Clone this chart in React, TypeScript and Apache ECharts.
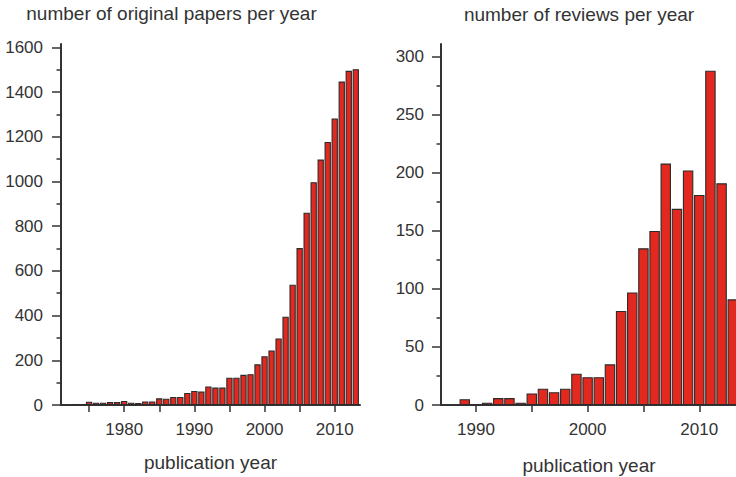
import React, { useEffect, useRef } from "react";
import * as echarts from "echarts";

// Left panel: original papers per year
const paperYears = [
  1973, 1974, 1975, 1976, 1977, 1978, 1979, 1980, 1981, 1982,
  1983, 1984, 1985, 1986, 1987, 1988, 1989, 1990, 1991, 1992,
  1993, 1994, 1995, 1996, 1997, 1998, 1999, 2000, 2001, 2002,
  2003, 2004, 2005, 2006, 2007, 2008, 2009, 2010, 2011, 2012, 2013,
];
const paperCounts = [
  4, 4, 15, 10, 10, 13, 13, 18, 10, 9,
  16, 16, 30, 28, 36, 36, 54, 63, 60, 83,
  78, 78, 122, 122, 135, 138, 182, 218, 244, 298,
  395, 538, 702, 860, 997, 1098, 1177, 1282, 1447, 1495, 1502,
];

// Right panel: reviews per year
const reviewYears = [
  1989, 1990, 1991, 1992, 1993, 1994, 1995, 1996, 1997, 1998,
  1999, 2000, 2001, 2002, 2003, 2004, 2005, 2006, 2007, 2008,
  2009, 2010, 2011, 2012, 2013,
];
const reviewCounts = [
  5, 0, 2, 6, 6, 2, 10, 14, 11, 14,
  27, 24, 24, 35, 81, 97, 135, 150, 208, 169,
  202, 181, 288, 191, 91,
];

const paperYTicks = [0, 200, 400, 600, 800, 1000, 1200, 1400, 1600];
const paperYMinor = [100, 300, 500, 700, 900, 1100, 1300, 1500];
const paperXTicks = [1975, 1980, 1985, 1990, 1995, 2000, 2005, 2010];
const paperXLabels = [1980, 1990, 2000, 2010];

const reviewYTicks = [0, 50, 100, 150, 200, 250, 300];
const reviewYMinor = [25, 75, 125, 175, 225, 275];
const reviewXTicks = [1990, 1995, 2000, 2005, 2010];
const reviewXLabels = [1990, 2000, 2010];

const leftTitle = "number of original papers per year";
const rightTitle = "number of reviews per year";
const xName = "publication year";

const FONT = '"Liberation Sans", Arial, Helvetica, sans-serif';
const TEXT = "#333333";
const AXIS = "#333333";
const BAR = "#E3281F";

const plain = (v: number) => String(Math.round(v));

export default function App() {
  const ref = useRef<HTMLDivElement>(null);

  useEffect(() => {
    if (!ref.current) return;
    const chart = echarts.init(ref.current, null, { renderer: "svg" });

    const gTop = 44;
    const gHeight = 361;
    const L = { left: 61, width: 299, min: 1971, max: 2013.6 };
    const R = { left: 441, width: 295, min: 1986.87, max: 2013.29 };
    const lPx = L.width / (L.max - L.min);
    const rPx = R.width / (R.max - R.min);

    const xAxisBase = (gridIndex: number, min: number, max: number, ticks: number[], labels: number[]) => ({
      type: "value",
      gridIndex,
      min,
      max,
      axisLine: { show: true, onZero: false, lineStyle: { color: AXIS, width: 2 } },
      axisTick: { show: true, length: 7, customValues: ticks, lineStyle: { color: AXIS, width: 1.5 } },
      axisLabel: { show: true, customValues: labels, formatter: plain, margin: 16, fontSize: 17, color: TEXT, fontFamily: FONT },
      splitLine: { show: false },
    });

    const yAxisMain = (gridIndex: number, max: number, ticks: number[], margin: number) => ({
      type: "value",
      gridIndex,
      position: "left",
      min: 0,
      max,
      axisLine: { show: true, lineStyle: { color: AXIS, width: 2 } },
      axisTick: { show: true, length: 9, customValues: ticks, lineStyle: { color: AXIS, width: 1.5 } },
      axisLabel: { show: true, customValues: ticks, formatter: plain, margin, fontSize: 17, color: TEXT, fontFamily: FONT },
      splitLine: { show: false },
    });

    const yAxisMinor = (gridIndex: number, max: number, ticks: number[]) => ({
      type: "value",
      gridIndex,
      position: "left",
      min: 0,
      max,
      axisLine: { show: false },
      axisTick: { show: true, length: 4.5, customValues: ticks, lineStyle: { color: AXIS, width: 1.5 } },
      axisLabel: { show: false },
      splitLine: { show: false },
    });

    const barStyle = { color: BAR, borderColor: "#2b2b2b", borderWidth: 1.1 };

    chart.setOption({
      animation: false,
      backgroundColor: "#ffffff",
      grid: [
        { left: L.left, top: gTop, width: L.width, height: gHeight, outerBoundsMode: "none" },
        { left: R.left, top: gTop, width: R.width, height: gHeight, outerBoundsMode: "none" },
      ],
      xAxis: [
        xAxisBase(0, L.min, L.max, paperXTicks, paperXLabels),
        xAxisBase(1, R.min, R.max, reviewXTicks, reviewXLabels),
      ],
      yAxis: [
        yAxisMain(0, 1615, paperYTicks, 18),
        yAxisMinor(0, 1615, paperYMinor),
        yAxisMain(1, 311, reviewYTicks, 17),
        yAxisMinor(1, 311, reviewYMinor),
      ],
      series: [
        {
          type: "bar",
          xAxisIndex: 0,
          yAxisIndex: 0,
          barWidth: lPx - 0.7,
          clip: true,
          itemStyle: barStyle,
          data: paperYears.map((y, i) => [y, paperCounts[i]]),
        },
        {
          type: "bar",
          xAxisIndex: 1,
          yAxisIndex: 2,
          barWidth: rPx - 0.7,
          clip: true,
          itemStyle: barStyle,
          data: reviewYears.map((y, i) => [y, reviewCounts[i]]),
        },
      ],
      graphic: [
        {
          type: "text",
          x: 171.5,
          y: 13,
          style: { text: leftTitle, fontSize: 19, fontFamily: FONT, fill: TEXT, align: "center", verticalAlign: "middle" },
        },
        {
          type: "text",
          x: 579,
          y: 14.5,
          style: { text: rightTitle, fontSize: 19, fontFamily: FONT, fill: TEXT, align: "center", verticalAlign: "middle" },
        },
        {
          type: "text",
          x: 210.5,
          y: 462,
          style: { text: xName, fontSize: 19, fontFamily: FONT, fill: TEXT, align: "center", verticalAlign: "middle" },
        },
        {
          type: "text",
          x: 589,
          y: 465,
          style: { text: xName, fontSize: 19, fontFamily: FONT, fill: TEXT, align: "center", verticalAlign: "middle" },
        },
      ],
    });

    return () => chart.dispose();
  }, []);

  return (
    <div
      ref={ref}
      style={{ position: "absolute", left: 0, top: 0, width: 736, height: 477 }}
    />
  );
}
